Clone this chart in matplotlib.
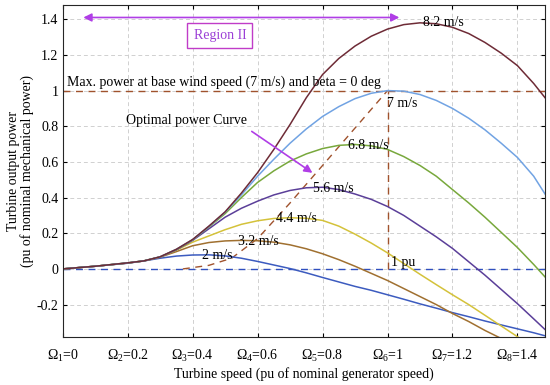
import matplotlib
matplotlib.use('Agg')
import matplotlib.pyplot as plt
from matplotlib.ticker import FormatStrFormatter

plt.rcParams['font.family'] = 'Liberation Serif'
plt.rcParams['mathtext.fontset'] = 'custom'
plt.rcParams['mathtext.rm'] = 'Liberation Serif'
plt.rcParams['mathtext.it'] = 'Liberation Serif:italic'

# turbine speed grid (pu) and power curves (pu)
speed = [0, 0.1, 0.2, 0.25, 0.3, 0.35, 0.4, 0.45, 0.5, 0.55, 0.6, 0.65, 0.7,
         0.75, 0.8, 0.85, 0.9, 0.95, 1.0, 1.05, 1.1, 1.15, 1.2, 1.25, 1.3,
         1.35, 1.4, 1.45, 1.485]
p_2 = [0, 0.015, 0.032, 0.045, 0.06, 0.072, 0.078, 0.079, 0.073, 0.06, 0.042,
       0.022, 0.002, -0.022, -0.048, -0.073, -0.098, -0.12, -0.145, -0.17,
       -0.196, -0.22, -0.245, -0.268, -0.292, -0.314, -0.336, -0.358, -0.375]
p_32 = [0, 0.015, 0.033, 0.045, 0.066, 0.097, 0.13, 0.148, 0.157, 0.16, 0.158,
        0.15, 0.135, 0.113, 0.085, 0.052, 0.015, -0.025, -0.065, -0.11,
        -0.155, -0.2, -0.25, -0.295, -0.345, -0.39, -0.44, -0.49, -0.53]
p_44 = [0, 0.015, 0.033, 0.045, 0.067, 0.105, 0.15, 0.185, 0.22, 0.25, 0.27,
        0.283, 0.287, 0.284, 0.272, 0.24, 0.195, 0.145, 0.09, 0.03, -0.03,
        -0.088, -0.145, -0.2, -0.26, -0.32, -0.38, -0.44, -0.49]
p_56 = [0, 0.015, 0.033, 0.045, 0.067, 0.107, 0.16, 0.225, 0.29, 0.34, 0.38,
        0.415, 0.44, 0.455, 0.458, 0.445, 0.42, 0.39, 0.35, 0.3, 0.24, 0.18,
        0.115, 0.04, -0.035, -0.115, -0.195, -0.28, -0.34]
p_68 = [0, 0.015, 0.034, 0.045, 0.068, 0.109, 0.163, 0.235, 0.31, 0.4, 0.485,
        0.55, 0.605, 0.645, 0.675, 0.693, 0.698, 0.69, 0.67, 0.63, 0.58, 0.52,
        0.445, 0.37, 0.29, 0.205, 0.12, 0.025, -0.045]
p_7 = [0, 0.015, 0.034, 0.045, 0.068, 0.11, 0.164, 0.238, 0.318, 0.415, 0.52,
       0.615, 0.705, 0.785, 0.855, 0.91, 0.955, 0.985, 1.0, 0.997, 0.978,
       0.945, 0.9, 0.845, 0.78, 0.705, 0.625, 0.52, 0.42]
p_82 = [0, 0.015, 0.034, 0.045, 0.068, 0.11, 0.165, 0.24, 0.32, 0.425, 0.54,
        0.67, 0.81, 0.96, 1.09, 1.18, 1.25, 1.305, 1.345, 1.37, 1.38, 1.375,
        1.355, 1.32, 1.27, 1.21, 1.14, 1.04, 0.96]

# optimal power curve
opt_speed = [0.37, 0.45, 0.52, 0.6, 0.7, 0.8, 0.9, 1.0]
opt_power = [0, 0.02, 0.06, 0.17, 0.37, 0.58, 0.79, 1.0]

curves = [p_2, p_32, p_44, p_56, p_68, p_7, p_82]
colors = ['#3c5bbf', '#a07030', '#d4c23a', '#5b3f99', '#78a83c', '#71a3e3', '#6e2b36']
labels = ['2 m/s', '3.2 m/s', '4.4 m/s', '5.6 m/s', '6.8 m/s', '7 m/s', '8.2 m/s']
label_pos = [(0.43, 0.075), (0.54, 0.155), (0.656, 0.28), (0.77, 0.45),
             (0.878, 0.69), (0.997, 0.93), (1.108, 1.38)]

xticks = [0, 0.2, 0.4, 0.6, 0.8, 1.0, 1.2, 1.4]
xticklabels = [r'$\Omega_1$=0', r'$\Omega_2$=0.2', r'$\Omega_3$=0.4', r'$\Omega_4$=0.6',
               r'$\Omega_5$=0.8', r'$\Omega_6$=1', r'$\Omega_7$=1.2', r'$\Omega_8$=1.4']
yticks = [-0.2, 0, 0.2, 0.4, 0.6, 0.8, 1.0, 1.2, 1.4]

fig = plt.figure(figsize=(5.5, 3.85), dpi=100)
ax = fig.add_axes([0.114, 0.1255, 0.877, 0.8615])

ax.grid(True, linestyle=(0, (4, 3)), color='#d0d0d0', linewidth=0.7)
ax.set_axisbelow(True)

brown = '#a0522d'
ax.axhline(0, color='#2f4fbf', linestyle=(0, (5, 4)), linewidth=1.0)
ax.axhline(1, color=brown, linestyle=(0, (5, 4)), linewidth=1.0)
ax.plot([1, 1], [0, 1], color=brown, linestyle=(0, (5, 4)), linewidth=1.0)
ax.plot(opt_speed, opt_power, color=brown, linestyle=(0, (5, 4)), linewidth=1.0)

for y, c in zip(curves, colors):
    ax.plot(speed, y, color=c, linewidth=1.1)

for (lx, ly), t in zip(label_pos, labels):
    ax.text(lx, ly, t, fontsize=10, va='center', ha='left')

ax.text(1.01, 0.037, '1 pu', fontsize=10, va='center', ha='left')
ax.text(0.012, 1.045, 'Max. power at base wind speed (7 m/s) and beta = 0 deg',
        fontsize=10, va='center', ha='left')
ax.text(0.195, 0.83, 'Optimal power Curve', fontsize=10, va='center', ha='left')

violet = '#b03ee6'
ax.annotate('', xy=(0.776, 0.53), xytext=(0.575, 0.78),
            arrowprops=dict(arrowstyle='-|>', color=violet, lw=1.2, mutation_scale=12))
ax.annotate('', xy=(0.055, 1.41), xytext=(1.045, 1.41),
            arrowprops=dict(arrowstyle='<|-|>', color=violet, lw=1.2, mutation_scale=12))
ax.text(0.484, 1.31, 'Region II', fontsize=10, color='#9b3fd6', ha='center', va='center',
        bbox=dict(boxstyle='square,pad=0.45', facecolor='white', edgecolor='#c03cc8', lw=1.0))

ax.set_xlim(0, 1.485)
ax.set_ylim(-0.38, 1.48)
ax.set_xticks(xticks)
ax.set_xticklabels(xticklabels)
ax.set_yticks(yticks)
ax.yaxis.set_major_formatter(FormatStrFormatter('%g'))
ax.tick_params(direction='in', top=True, right=True, labelsize=10, length=3)
ax.tick_params(axis='x', pad=8)
ax.tick_params(axis='y', pad=3)
for s in ax.spines.values():
    s.set_color('#262626')
    s.set_linewidth(0.8)

ax.set_xlabel('Turbine speed (pu of nominal generator speed)', fontsize=10, labelpad=2)
ax.set_ylabel('Turbine output power\n(pu of nominal mechanical power)', fontsize=10,
              labelpad=2, linespacing=1.0)

fig.savefig('out.png', dpi=100)
